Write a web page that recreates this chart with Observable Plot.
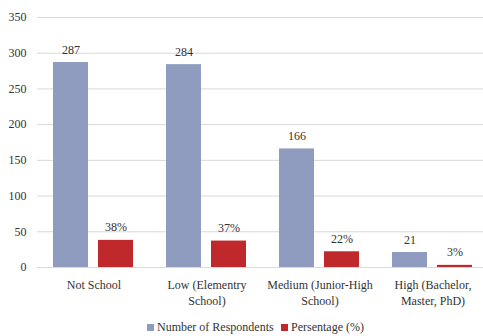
<!DOCTYPE html>
<html><head><meta charset="utf-8">
<script src="https://cdn.jsdelivr.net/npm/d3@7"></script>
<script src="https://cdn.jsdelivr.net/npm/@observablehq/plot@0.6"></script>
<style>
body{margin:0;background:#fff;font-family:"Liberation Serif","Times New Roman",Tinos,"DejaVu Serif",serif;overflow:hidden}
#legend{position:relative;height:24px;font-size:12px;color:#333}
.item{position:absolute;top:8px;display:flex;align-items:center;white-space:nowrap}
.sw{width:7px;height:7px;margin-right:3px}
</style></head><body><div id="chart"></div><div id="legend"></div>
<script>
const categories = ["Not School","Low (Elementry School)","Medium (Junior-High School)","High (Bachelor, Master, PhD)"];
const tickLabels = ["Not School","Low (Elementry\nSchool)","Medium (Junior-High\nSchool)","High (Bachelor,\nMaster, PhD)"];
const series = ["Number of Respondents","Persentage (%)"];
const respondents = [287,284,166,21];
const percentages = [38,37,22,3];
const colors = ["#8f9cbf","#c0292b"];
const yTicks = [0,50,100,150,200,250,300,350];

const data = categories.flatMap((c,i)=>[
  {category:c, series:series[0], value:respondents[i], label:String(respondents[i])},
  {category:c, series:series[1], value:percentages[i], label:percentages[i]+"%"}
]);

const chart = Plot.plot({
  width:483, height:312, marginLeft:36, marginRight:0, marginTop:17, marginBottom:45,
  style:{fontFamily:"'Liberation Serif','Times New Roman',Tinos,'DejaVu Serif',serif", fontSize:"12px", color:"#333", background:"#fff"},
  fx:{domain:categories, range:[36,490], padding:0, label:null},
  x:{domain:series, paddingInner:0.217, paddingOuter:0.34, axis:null},
  y:{domain:[0,350], label:null},
  color:{domain:series, range:colors},
  marks:[
    Plot.gridY(yTicks, {stroke:"#d9d9d9", strokeOpacity:1}),
    Plot.axisY(yTicks, {tickSize:0, tickPadding:11, label:null}),
    Plot.axisFx({anchor:"bottom", tickSize:0, tickPadding:10, lineHeight:1.33, label:null,
      tickFormat:d=>tickLabels[categories.indexOf(d)]}),
    Plot.barY(data, {fx:"category", x:"series", y:"value", fill:"series"}),
    Plot.text(data, {fx:"category", x:"series", y:"value", text:"label", dy:-9, lineAnchor:"bottom", fill:"#333"})
  ]
});
document.getElementById("chart").appendChild(chart);

const lg = document.getElementById("legend");
const lefts = [147,281];
series.forEach((s,i)=>{
  const it = document.createElement("div");
  it.className="item"; it.style.left = lefts[i]+"px";
  it.innerHTML = `<span class="sw" style="background:${colors[i]}"></span><span>${s}</span>`;
  lg.appendChild(it);
});
</script></body></html>
